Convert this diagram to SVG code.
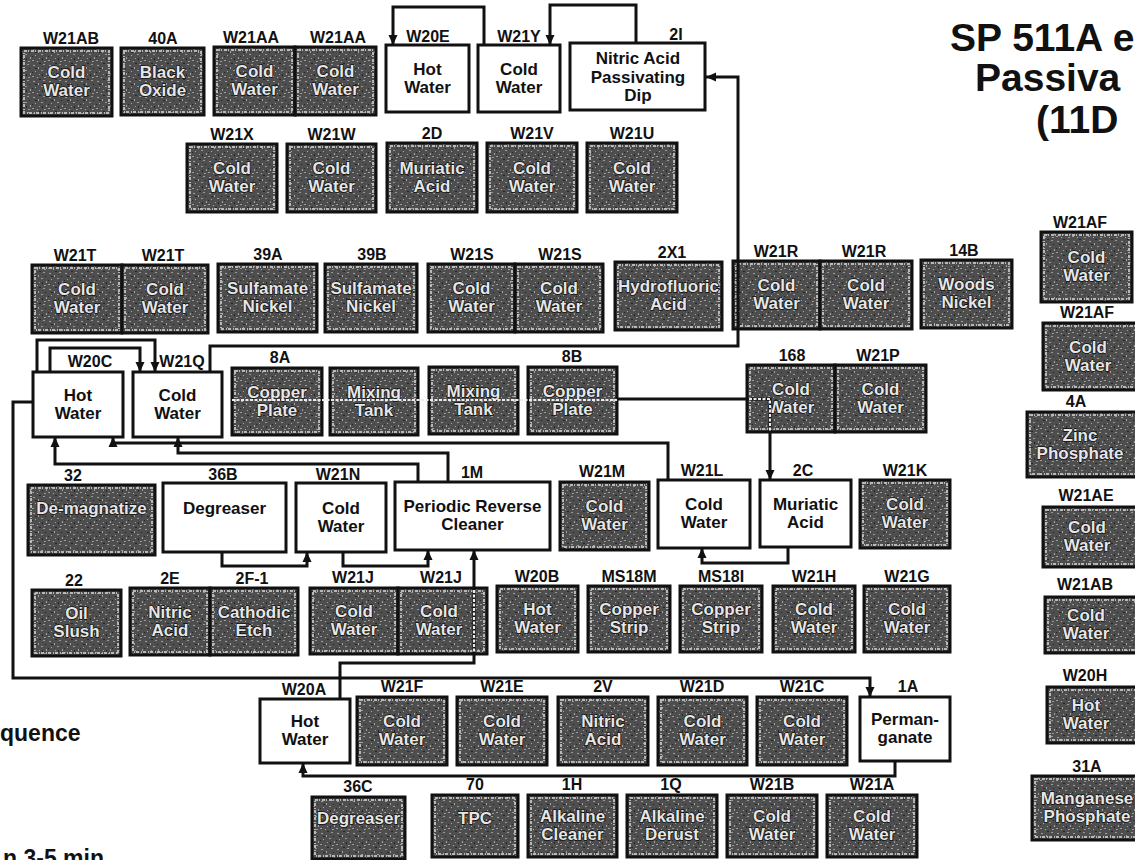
<svg xmlns="http://www.w3.org/2000/svg" width="1135" height="860" viewBox="0 0 1135 860">
<defs>
<pattern id="spk" width="16" height="16" patternUnits="userSpaceOnUse">
<rect width="16" height="16" fill="#4e4e4e"/>
<rect x="1" y="1" width="2" height="1" fill="#a0a0a0"/>
<rect x="6" y="3" width="1" height="2" fill="#a0a0a0"/>
<rect x="11" y="0" width="2" height="1" fill="#9a9a9a"/>
<rect x="3" y="7" width="1" height="1" fill="#a8a8a8"/>
<rect x="9" y="6" width="2" height="1" fill="#9a9a9a"/>
<rect x="14" y="9" width="1" height="2" fill="#a0a0a0"/>
<rect x="0" y="12" width="2" height="1" fill="#9c9c9c"/>
<rect x="5" y="13" width="1" height="1" fill="#a8a8a8"/>
<rect x="12" y="13" width="2" height="1" fill="#9a9a9a"/>
<rect x="7" y="10" width="1" height="1" fill="#a0a0a0"/>
<rect x="3" y="4" width="2" height="1" fill="#262626"/>
<rect x="10" y="10" width="1" height="2" fill="#262626"/>
<rect x="13" y="4" width="1" height="1" fill="#262626"/>
<rect x="0" y="8" width="1" height="1" fill="#262626"/>
<rect x="7" y="15" width="2" height="1" fill="#262626"/>
</pattern>
<marker id="ah" markerUnits="userSpaceOnUse" markerWidth="10" markerHeight="10" refX="10" refY="5" orient="auto">
<path d="M0,0.5 L10,5 L0,9.5 z" fill="#111"/>
</marker>
<style>
.b{fill:url(#spk);stroke:#111;stroke-width:3}
.r{fill:none;stroke:#b8b8b8;stroke-width:2;stroke-dasharray:3 1 1 2}
.w{fill:#fff;stroke:#111;stroke-width:3}
text{font-family:"Liberation Sans",Arial,Helvetica,sans-serif;font-weight:bold;text-anchor:middle}
.lbl{font-size:16px;fill:#111}
.dt{font-size:17px;fill:#e6e6e6;stroke:#111;stroke-width:1.6px;paint-order:stroke;stroke-linejoin:round}
.wt{font-size:17px;fill:#111}
.ttl{font-size:39px;fill:#111;text-anchor:start}
.side{font-size:23px;fill:#111;text-anchor:start}
.c{fill:none;stroke:#111;stroke-width:3}
.ca{marker-end:url(#ah)}
.g{fill:none;stroke:#ececec;stroke-width:2;stroke-dasharray:3 1.5}
</style>
</defs>
<rect width="1135" height="860" fill="#fff"/>

<!-- titles -->
<text class="ttl" x="950" y="51">SP 511A e</text>
<text class="ttl" x="975" y="91">Passiva</text>
<text class="ttl" x="1036" y="133">(11D</text>
<text class="side" x="0" y="741">quence</text>
<text class="side" x="3" y="866">n 3-5 min</text>

<g id="nodes">
<!-- Row 1 -->
<g id="n-W21AB-top"><rect class="b" x="21" y="48" width="91" height="68"/><rect class="r" x="24" y="51" width="85" height="62"/><text class="lbl" x="71" y="44">W21AB</text><text class="dt" x="66.5" y="78">Cold</text><text class="dt" x="66.5" y="96">Water</text></g>
<g id="n-40A"><rect class="b" x="121" y="48" width="83" height="67"/><rect class="r" x="124" y="51" width="77" height="61"/><text class="lbl" x="163" y="44">40A</text><text class="dt" x="162.5" y="77.5">Black</text><text class="dt" x="162.5" y="95.5">Oxide</text></g>
<g id="n-W21AA-1"><rect class="b" x="214" y="47" width="81" height="68"/><rect class="r" x="217" y="50" width="75" height="62"/><text class="lbl" x="251" y="43">W21AA</text><text class="dt" x="254.5" y="77">Cold</text><text class="dt" x="254.5" y="95">Water</text></g>
<g id="n-W21AA-2"><rect class="b" x="295" y="47" width="81" height="68"/><rect class="r" x="298" y="50" width="75" height="62"/><text class="lbl" x="338" y="43">W21AA</text><text class="dt" x="335.5" y="77">Cold</text><text class="dt" x="335.5" y="95">Water</text></g>
<g id="n-W20E"><rect class="w" x="386" y="45" width="83" height="67"/><text class="lbl" x="428" y="42">W20E</text><text class="wt" x="427.5" y="74.5">Hot</text><text class="wt" x="427.5" y="92.5">Water</text></g>
<g id="n-W21Y"><rect class="w" x="478" y="45" width="82" height="67"/><text class="lbl" x="519" y="42">W21Y</text><text class="wt" x="519" y="74.5">Cold</text><text class="wt" x="519" y="92.5">Water</text></g>
<g id="n-2I"><rect class="w" x="570" y="43" width="135" height="67"/><text class="lbl" x="676" y="40">2I</text><text class="wt" x="638" y="64">Nitric Acid</text><text class="wt" x="638" y="83">Passivating</text><text class="wt" x="638" y="101">Dip</text></g>

<!-- Row 2 -->
<g id="n-W21X"><rect class="b" x="187" y="144" width="90" height="68"/><rect class="r" x="190" y="147" width="84" height="62"/><text class="lbl" x="232" y="140">W21X</text><text class="dt" x="232" y="174">Cold</text><text class="dt" x="232" y="192">Water</text></g>
<g id="n-W21W"><rect class="b" x="287" y="144" width="89" height="68"/><rect class="r" x="290" y="147" width="83" height="62"/><text class="lbl" x="331.5" y="140">W21W</text><text class="dt" x="331.5" y="174">Cold</text><text class="dt" x="331.5" y="192">Water</text></g>
<g id="n-2D"><rect class="b" x="387" y="143" width="90" height="69"/><rect class="r" x="390" y="146" width="84" height="63"/><text class="lbl" x="432" y="139">2D</text><text class="dt" x="432" y="173.5">Muriatic</text><text class="dt" x="432" y="191.5">Acid</text></g>
<g id="n-W21V"><rect class="b" x="487" y="143" width="90" height="69"/><rect class="r" x="490" y="146" width="84" height="63"/><text class="lbl" x="532" y="139">W21V</text><text class="dt" x="532" y="173.5">Cold</text><text class="dt" x="532" y="191.5">Water</text></g>
<g id="n-W21U"><rect class="b" x="587" y="143" width="90" height="69"/><rect class="r" x="590" y="146" width="84" height="63"/><text class="lbl" x="632" y="139">W21U</text><text class="dt" x="632" y="173.5">Cold</text><text class="dt" x="632" y="191.5">Water</text></g>

<!-- Row 3 -->
<g id="n-W21T-1"><rect class="b" x="32" y="265" width="90" height="68"/><rect class="r" x="35" y="268" width="84" height="62"/><text class="lbl" x="75" y="261">W21T</text><text class="dt" x="77" y="295">Cold</text><text class="dt" x="77" y="313">Water</text></g>
<g id="n-W21T-2"><rect class="b" x="122" y="265" width="86" height="68"/><rect class="r" x="125" y="268" width="80" height="62"/><text class="lbl" x="163" y="261">W21T</text><text class="dt" x="165" y="295">Cold</text><text class="dt" x="165" y="313">Water</text></g>
<g id="n-39A"><rect class="b" x="218" y="264" width="99" height="68"/><rect class="r" x="221" y="267" width="93" height="62"/><text class="lbl" x="268" y="260">39A</text><text class="dt" x="267.5" y="294">Sulfamate</text><text class="dt" x="267.5" y="312">Nickel</text></g>
<g id="n-39B"><rect class="b" x="325" y="264" width="92" height="68"/><rect class="r" x="328" y="267" width="86" height="62"/><text class="lbl" x="372" y="260">39B</text><text class="dt" x="371" y="294">Sulfamate</text><text class="dt" x="371" y="312">Nickel</text></g>
<g id="n-W21S-1"><rect class="b" x="428" y="264" width="87" height="68"/><rect class="r" x="431" y="267" width="81" height="62"/><text class="lbl" x="472" y="260">W21S</text><text class="dt" x="471.5" y="294">Cold</text><text class="dt" x="471.5" y="312">Water</text></g>
<g id="n-W21S-2"><rect class="b" x="515" y="264" width="88" height="68"/><rect class="r" x="518" y="267" width="82" height="62"/><text class="lbl" x="560" y="260">W21S</text><text class="dt" x="559" y="294">Cold</text><text class="dt" x="559" y="312">Water</text></g>
<g id="n-2X1"><rect class="b" x="615" y="262" width="107" height="68"/><rect class="r" x="618" y="265" width="101" height="62"/><text class="lbl" x="672" y="258">2X1</text><text class="dt" x="668.5" y="292">Hydrofluoric</text><text class="dt" x="668.5" y="310">Acid</text></g>
<g id="n-W21R-1"><rect class="b" x="733" y="261" width="87" height="68"/><rect class="r" x="736" y="264" width="81" height="62"/><text class="lbl" x="776" y="257">W21R</text><text class="dt" x="776.5" y="291">Cold</text><text class="dt" x="776.5" y="309">Water</text></g>
<g id="n-W21R-2"><rect class="b" x="820" y="261" width="92" height="68"/><rect class="r" x="823" y="264" width="86" height="62"/><text class="lbl" x="864" y="257">W21R</text><text class="dt" x="866" y="291">Cold</text><text class="dt" x="866" y="309">Water</text></g>
<g id="n-14B"><rect class="b" x="921" y="260" width="91" height="68"/><rect class="r" x="924" y="263" width="85" height="62"/><text class="lbl" x="964" y="256">14B</text><text class="dt" x="966.5" y="290">Woods</text><text class="dt" x="966.5" y="308">Nickel</text></g>

<!-- Right column -->
<g id="n-W21AF-1"><rect class="b" x="1041" y="232" width="91" height="70"/><rect class="r" x="1044" y="235" width="85" height="64"/><text class="lbl" x="1080" y="228">W21AF</text><text class="dt" x="1086.5" y="263">Cold</text><text class="dt" x="1086.5" y="281">Water</text></g>
<g id="n-W21AF-2"><rect class="b" x="1043" y="323" width="96" height="67"/><rect class="r" x="1046" y="326" width="90" height="61"/><text class="lbl" x="1087" y="318">W21AF</text><text class="dt" x="1088" y="352.5">Cold</text><text class="dt" x="1088" y="370.5">Water</text></g>
<g id="n-4A"><rect class="b" x="1027" y="412" width="112" height="65"/><rect class="r" x="1030" y="415" width="106" height="59"/><text class="lbl" x="1076" y="407">4A</text><text class="dt" x="1080" y="440.5">Zinc</text><text class="dt" x="1080" y="458.5">Phosphate</text></g>
<g id="n-W21AE"><rect class="b" x="1043" y="507" width="96" height="60"/><rect class="r" x="1046" y="510" width="90" height="54"/><text class="lbl" x="1086" y="501">W21AE</text><text class="dt" x="1087" y="533">Cold</text><text class="dt" x="1087" y="551">Water</text></g>
<g id="n-W21AB-right"><rect class="b" x="1045" y="597" width="94" height="56"/><rect class="r" x="1048" y="600" width="88" height="50"/><text class="lbl" x="1085" y="590">W21AB</text><text class="dt" x="1086" y="621">Cold</text><text class="dt" x="1086" y="639">Water</text></g>
<g id="n-W20H"><rect class="b" x="1047" y="687" width="92" height="56"/><rect class="r" x="1050" y="690" width="86" height="50"/><text class="lbl" x="1085" y="681">W20H</text><text class="dt" x="1086" y="711">Hot</text><text class="dt" x="1086" y="729">Water</text></g>
<g id="n-31A"><rect class="b" x="1032" y="776" width="108" height="64"/><rect class="r" x="1035" y="779" width="102" height="58"/><text class="lbl" x="1087" y="772">31A</text><text class="dt" x="1087" y="804">Manganese</text><text class="dt" x="1087" y="822">Phosphate</text></g>

<!-- Row 4 -->
<g id="n-W20C"><rect class="w" x="33" y="372" width="90" height="65"/><text class="lbl" x="90" y="367">W20C</text><text class="wt" x="78" y="400.5">Hot</text><text class="wt" x="78" y="418.5">Water</text></g>
<g id="n-W21Q"><rect class="w" x="133" y="372" width="89" height="65"/><text class="lbl" x="182" y="367">W21Q</text><text class="wt" x="177.5" y="400.5">Cold</text><text class="wt" x="177.5" y="418.5">Water</text></g>
<g id="n-8A"><rect class="b" x="232" y="368" width="90" height="67"/><rect class="r" x="235" y="371" width="84" height="61"/><text class="lbl" x="280" y="363">8A</text><text class="dt" x="277" y="397.5">Copper</text><text class="dt" x="277" y="415.5">Plate</text></g>
<g id="n-mix-1"><rect class="b" x="330" y="368" width="88" height="67"/><rect class="r" x="333" y="371" width="82" height="61"/><text class="dt" x="374" y="397.5">Mixing</text><text class="dt" x="374" y="415.5">Tank</text></g>
<g id="n-mix-2"><rect class="b" x="429" y="367" width="89" height="67"/><rect class="r" x="432" y="370" width="83" height="61"/><text class="dt" x="473.5" y="396.5">Mixing</text><text class="dt" x="473.5" y="414.5">Tank</text></g>
<g id="n-8B"><rect class="b" x="528" y="367" width="89" height="67"/><rect class="r" x="531" y="370" width="83" height="61"/><text class="lbl" x="572" y="362">8B</text><text class="dt" x="572.5" y="396.5">Copper</text><text class="dt" x="572.5" y="414.5">Plate</text></g>
<g id="n-168"><rect class="b" x="747" y="365" width="88" height="67"/><rect class="r" x="750" y="368" width="82" height="61"/><text class="lbl" x="792" y="361">168</text><text class="dt" x="791" y="394.5">Cold</text><text class="dt" x="791" y="412.5">Water</text></g>
<g id="n-W21P"><rect class="b" x="835" y="365" width="91" height="67"/><rect class="r" x="838" y="368" width="85" height="61"/><text class="lbl" x="878" y="361">W21P</text><text class="dt" x="880.5" y="394.5">Cold</text><text class="dt" x="880.5" y="412.5">Water</text></g>

<!-- Row 5 -->
<g id="n-32"><rect class="b" x="28" y="485" width="127" height="70"/><rect class="r" x="31" y="488" width="121" height="64"/><text class="lbl" x="73" y="481">32</text><text class="dt" x="91.5" y="514">De-magnatize</text></g>
<g id="n-36B"><rect class="w" x="163" y="483" width="123" height="69"/><text class="lbl" x="223" y="480">36B</text><text class="wt" x="224.5" y="514">Degreaser</text></g>
<g id="n-W21N"><rect class="w" x="296" y="483" width="90" height="69"/><text class="lbl" x="338" y="480">W21N</text><text class="wt" x="341" y="513.5">Cold</text><text class="wt" x="341" y="531.5">Water</text></g>
<g id="n-1M"><rect class="w" x="395" y="482" width="155" height="68"/><text class="lbl" x="472" y="478">1M</text><text class="wt" x="472.5" y="512">Periodic Reverse</text><text class="wt" x="472.5" y="530">Cleaner</text></g>
<g id="n-W21M"><rect class="b" x="560" y="482" width="89" height="68"/><rect class="r" x="563" y="485" width="83" height="62"/><text class="lbl" x="602" y="477">W21M</text><text class="dt" x="604.5" y="512">Cold</text><text class="dt" x="604.5" y="530">Water</text></g>
<g id="n-W21L"><rect class="w" x="658" y="480" width="92" height="68"/><text class="lbl" x="702" y="476">W21L</text><text class="wt" x="704" y="510">Cold</text><text class="wt" x="704" y="528">Water</text></g>
<g id="n-2C"><rect class="w" x="760" y="480" width="91" height="67"/><text class="lbl" x="803" y="476">2C</text><text class="wt" x="805.5" y="509.5">Muriatic</text><text class="wt" x="805.5" y="527.5">Acid</text></g>
<g id="n-W21K"><rect class="b" x="860" y="480" width="90" height="68"/><rect class="r" x="863" y="483" width="84" height="62"/><text class="lbl" x="905" y="476">W21K</text><text class="dt" x="905" y="510">Cold</text><text class="dt" x="905" y="528">Water</text></g>

<!-- Row 6 -->
<g id="n-22"><rect class="b" x="32" y="590" width="89" height="66"/><rect class="r" x="35" y="593" width="83" height="60"/><text class="lbl" x="74" y="586">22</text><text class="dt" x="76.5" y="619">Oil</text><text class="dt" x="76.5" y="637">Slush</text></g>
<g id="n-2E"><rect class="b" x="130" y="588" width="80" height="67"/><rect class="r" x="133" y="591" width="74" height="61"/><text class="lbl" x="170" y="584">2E</text><text class="dt" x="170" y="617.5">Nitric</text><text class="dt" x="170" y="635.5">Acid</text></g>
<g id="n-2F-1"><rect class="b" x="210" y="588" width="88" height="67"/><rect class="r" x="213" y="591" width="82" height="61"/><text class="lbl" x="252" y="584">2F-1</text><text class="dt" x="254" y="617.5">Cathodic</text><text class="dt" x="254" y="635.5">Etch</text></g>
<g id="n-W21J-1"><rect class="b" x="310" y="588" width="88" height="66"/><rect class="r" x="313" y="591" width="82" height="60"/><text class="lbl" x="353" y="583">W21J</text><text class="dt" x="354" y="617">Cold</text><text class="dt" x="354" y="635">Water</text></g>
<g id="n-W21J-2"><rect class="b" x="398" y="588" width="89" height="66"/><rect class="r" x="401" y="591" width="83" height="60"/><text class="lbl" x="441" y="583">W21J</text><text class="dt" x="439" y="617">Cold</text><text class="dt" x="439" y="635">Water</text></g>
<g id="n-W20B"><rect class="b" x="497" y="586" width="81" height="66"/><rect class="r" x="500" y="589" width="75" height="60"/><text class="lbl" x="537" y="582">W20B</text><text class="dt" x="537.5" y="615">Hot</text><text class="dt" x="537.5" y="633">Water</text></g>
<g id="n-MS18M"><rect class="b" x="588" y="586" width="82" height="66"/><rect class="r" x="591" y="589" width="76" height="60"/><text class="lbl" x="629" y="582">MS18M</text><text class="dt" x="629" y="615">Copper</text><text class="dt" x="629" y="633">Strip</text></g>
<g id="n-MS18I"><rect class="b" x="680" y="586" width="82" height="66"/><rect class="r" x="683" y="589" width="76" height="60"/><text class="lbl" x="721" y="582">MS18I</text><text class="dt" x="721" y="615">Copper</text><text class="dt" x="721" y="633">Strip</text></g>
<g id="n-W21H"><rect class="b" x="773" y="586" width="82" height="66"/><rect class="r" x="776" y="589" width="76" height="60"/><text class="lbl" x="814" y="582">W21H</text><text class="dt" x="814" y="615">Cold</text><text class="dt" x="814" y="633">Water</text></g>
<g id="n-W21G"><rect class="b" x="864" y="586" width="86" height="66"/><rect class="r" x="867" y="589" width="80" height="60"/><text class="lbl" x="907" y="582">W21G</text><text class="dt" x="907" y="615">Cold</text><text class="dt" x="907" y="633">Water</text></g>

<!-- Row 7 -->
<g id="n-W20A"><rect class="w" x="260" y="699" width="90" height="64"/><text class="lbl" x="304" y="695">W20A</text><text class="wt" x="305" y="727">Hot</text><text class="wt" x="305" y="745">Water</text></g>
<g id="n-W21F"><rect class="b" x="357" y="697" width="90" height="68"/><rect class="r" x="360" y="700" width="84" height="62"/><text class="lbl" x="402" y="692">W21F</text><text class="dt" x="402" y="727">Cold</text><text class="dt" x="402" y="745">Water</text></g>
<g id="n-W21E"><rect class="b" x="457" y="697" width="90" height="68"/><rect class="r" x="460" y="700" width="84" height="62"/><text class="lbl" x="502" y="692">W21E</text><text class="dt" x="502" y="727">Cold</text><text class="dt" x="502" y="745">Water</text></g>
<g id="n-2V"><rect class="b" x="558" y="697" width="90" height="68"/><rect class="r" x="561" y="700" width="84" height="62"/><text class="lbl" x="603" y="692">2V</text><text class="dt" x="603" y="727">Nitric</text><text class="dt" x="603" y="745">Acid</text></g>
<g id="n-W21D"><rect class="b" x="658" y="697" width="89" height="68"/><rect class="r" x="661" y="700" width="83" height="62"/><text class="lbl" x="702" y="692">W21D</text><text class="dt" x="702.5" y="727">Cold</text><text class="dt" x="702.5" y="745">Water</text></g>
<g id="n-W21C"><rect class="b" x="757" y="697" width="90" height="68"/><rect class="r" x="760" y="700" width="84" height="62"/><text class="lbl" x="802" y="692">W21C</text><text class="dt" x="802" y="727">Cold</text><text class="dt" x="802" y="745">Water</text></g>
<g id="n-1A"><rect class="w" x="860" y="697" width="90" height="64"/><text class="lbl" x="908" y="692">1A</text><text class="wt" x="905" y="725">Perman-</text><text class="wt" x="905" y="743">ganate</text></g>

<!-- Row 8 -->
<g id="n-36C"><rect class="b" x="312" y="797" width="93" height="62"/><rect class="r" x="315" y="800" width="87" height="56"/><text class="lbl" x="358" y="792">36C</text><text class="dt" x="358.5" y="824">Degreaser</text></g>
<g id="n-70"><rect class="b" x="432" y="795" width="86" height="62"/><rect class="r" x="435" y="798" width="80" height="56"/><text class="lbl" x="475" y="790">70</text><text class="dt" x="475" y="824">TPC</text></g>
<g id="n-1H"><rect class="b" x="528" y="795" width="89" height="62"/><rect class="r" x="531" y="798" width="83" height="56"/><text class="lbl" x="572" y="790">1H</text><text class="dt" x="572.5" y="822">Alkaline</text><text class="dt" x="572.5" y="840">Cleaner</text></g>
<g id="n-1Q"><rect class="b" x="627" y="795" width="90" height="62"/><rect class="r" x="630" y="798" width="84" height="56"/><text class="lbl" x="671" y="790">1Q</text><text class="dt" x="672" y="822">Alkaline</text><text class="dt" x="672" y="840">Derust</text></g>
<g id="n-W21B"><rect class="b" x="727" y="795" width="90" height="62"/><rect class="r" x="730" y="798" width="84" height="56"/><text class="lbl" x="772" y="790">W21B</text><text class="dt" x="772" y="822">Cold</text><text class="dt" x="772" y="840">Water</text></g>
<g id="n-W21A"><rect class="b" x="827" y="795" width="90" height="62"/><rect class="r" x="830" y="798" width="84" height="56"/><text class="lbl" x="872" y="790">W21A</text><text class="dt" x="872" y="822">Cold</text><text class="dt" x="872" y="840">Water</text></g>
</g>

<g id="connectors">
<path class="c ca" d="M484,45 V7 H393 V45"/>
<path class="c ca" d="M636,43 V5 H550 V45"/>
<path class="c ca" d="M210,372 V346 H738 V77 H706"/>
<path class="c ca" d="M37,372 V340 H155 V372"/>
<path class="c ca" d="M50,372 V348 H140 V372"/>
<path class="c ca" d="M418,482 V464 H55 V437"/>
<path class="c ca" d="M448,482 V453 H178 V437"/>
<path class="c ca" d="M668,480 V443 H113 V437"/>
<path class="c ca" d="M222,552 V566 H307 V552"/>
<path class="c ca" d="M343,552 V566 H428 V550"/>
<path class="c ca" d="M340,699 V663 H474 V550"/>
<path class="c ca" d="M33,402 H13 V678 H870 V697"/>
<path class="c ca" d="M895,761 V776 H303 V763"/>
<path class="c ca" d="M617,399 H770 V480"/>
<path class="c ca" d="M788,547 V563 H702 V548"/>
<path class="g" d="M232,400 H617"/>
<path class="g" d="M749,399 H770 V431"/>
<path class="g" d="M474,590 V652"/>
</g>
</svg>
